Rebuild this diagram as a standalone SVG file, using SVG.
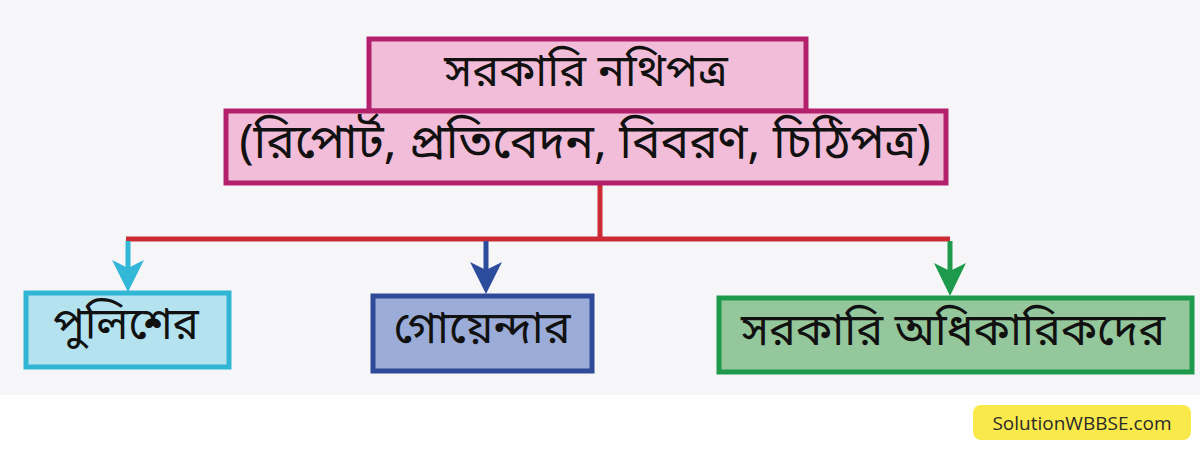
<svg xmlns="http://www.w3.org/2000/svg" width="1200" height="449" viewBox="0 0 1200 449">
<defs>
<style>
.t{font-family:"Noto Sans Bengali","Noto Serif Bengali","Lohit Bengali","Noto Sans","DejaVu Sans",sans-serif;fill:#111;text-anchor:middle;dominant-baseline:central}
.top{fill:#f2bdd8;stroke:#b3206c;stroke-width:5}
.wm{font-family:"Open Sans","Liberation Sans",sans-serif;font-size:19px;fill:#2a2a2a;text-anchor:middle;dominant-baseline:central}
</style>
</defs>
<rect width="1200" height="449" fill="#ffffff"/>
<rect width="1200" height="395" fill="#f6f6f8"/>
<g id="connectors" fill="none">
<polyline points="600,183 600,239" stroke="#cc2b35" stroke-width="5"/>
<polyline points="126,239 950,239" stroke="#cc2b35" stroke-width="5"/>
<line x1="128" y1="241" x2="128" y2="272" stroke="#33b7d6" stroke-width="5"/>
<path d="M112,260 L128,268 L144,260 L128,292 Z" fill="#33b7d6"/>
<line x1="486" y1="241" x2="486" y2="272" stroke="#2e4c9c" stroke-width="5"/>
<path d="M470,262 L486,270 L502,262 L486,294 Z" fill="#2e4c9c"/>
<line x1="950" y1="241" x2="950" y2="272" stroke="#1d9a4b" stroke-width="5"/>
<path d="M934,263 L950,271 L966,263 L950,296 Z" fill="#1d9a4b"/>
</g>
<g id="node-top">
<rect class="top" x="369" y="39" width="437" height="72"/>
<rect class="top" x="226" y="111" width="720" height="72"/>
<text class="t" x="586" y="74" font-size="45">সরকারি নথিপত্র</text>
<text class="t" x="585" y="146" font-size="48">(রিপোর্ট, প্রতিবেদন, বিবরণ, চিঠিপত্র)</text>
</g>
<g id="node-police">
<rect x="26" y="293" width="203" height="74" fill="#b4e2ef" stroke="#30b5d4" stroke-width="5"/>
<text class="t" x="126" y="328" font-size="44">পুলিশের</text>
</g>
<g id="node-detective">
<rect x="373" y="296" width="219" height="75" fill="#9aacd7" stroke="#2e4a99" stroke-width="5"/>
<text class="t" x="482" y="331" font-size="45">গোয়েন্দার</text>
</g>
<g id="node-officers">
<rect x="719" y="298" width="473" height="74" fill="#94c79b" stroke="#1f9a4c" stroke-width="5"/>
<text class="t" x="953" y="333" font-size="45">সরকারি অধিকারিকদের</text>
</g>
<g id="watermark">
<rect x="973" y="405" width="218" height="35" rx="8" fill="#f9e94a"/>
<text class="wm" x="1082" y="423">SolutionWBBSE.com</text>
</g>
</svg>
